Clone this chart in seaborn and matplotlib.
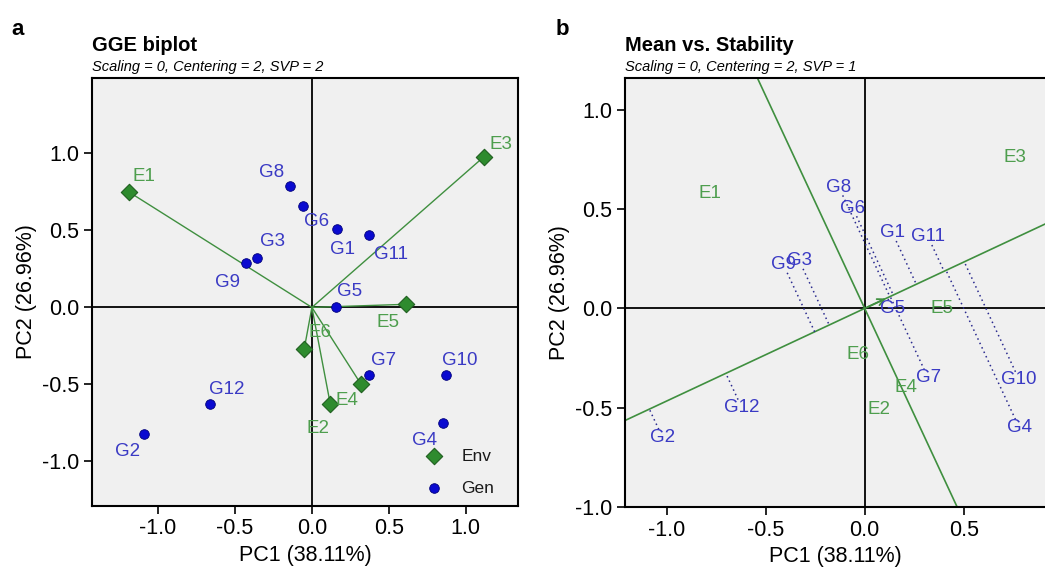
import numpy as np
import pandas as pd
import matplotlib.pyplot as plt
import seaborn as sns

# scores
gen_names = ['G1', 'G2', 'G3', 'G4', 'G5', 'G6', 'G7', 'G8', 'G9', 'G10', 'G11', 'G12']
env_names = ['E1', 'E2', 'E3', 'E4', 'E5', 'E6']

# panel a: GGE biplot, SVP = 2
gen_pc1_a = [0.16, -1.09, -0.36, 0.85, 0.155, -0.06, 0.37, -0.14, -0.43, 0.87, 0.37, -0.66]
gen_pc2_a = [0.51, -0.82, 0.32, -0.75, 0.00, 0.66, -0.44, 0.79, 0.29, -0.44, 0.47, -0.63]
env_pc1_a = [-1.19, 0.12, 1.12, 0.32, 0.61, -0.05]
env_pc2_a = [0.75, -0.63, 0.98, -0.50, 0.02, -0.27]

# panel b: mean vs stability, SVP = 1
gen_pc1_b = [0.14, -1.02, -0.33, 0.78, 0.14, -0.06, 0.32, -0.13, -0.41, 0.78, 0.32, -0.62]
gen_pc2_b = [0.38, -0.65, 0.24, -0.60, 0.00, 0.505, -0.35, 0.61, 0.22, -0.36, 0.36, -0.50]
env_pc1_b = [-0.78, 0.07, 0.76, 0.21, 0.39, -0.035]
env_pc2_b = [0.58, -0.51, 0.76, -0.40, 0.00, -0.23]
mean_env_b = [0.12, 0.056]   # average environment (arrow on the ATA)

xlab = 'PC1 (38.11%)'
ylab = 'PC2 (26.96%)'

# label offsets in pixels for panel a (right, up)
gen_off = [(6, -21), (-17, -18), (16, 17), (-18, -18), (14, 16), (14, -16),
           (15, 15), (-19, 13), (-18, -20), (14, 15), (22, -19), (16, 15)]
env_off = [(15, 15), (-12, -24), (17, 12), (-14, -16), (-18, -18), (16, 16)]

GEN_C = '#0a0ad0'
GEN_TXT = '#3a3ac4'
ENV_C = '#2e8b2e'
ENV_TXT = '#4e9e4e'
LINE_G = '#3f8f3f'
BG = '#f0f0f0'

sns.set_style('ticks')
plt.rcParams['font.family'] = ['Liberation Sans', 'DejaVu Sans']
plt.rcParams['axes.unicode_minus'] = False
plt.rcParams['text.color'] = 'black'
plt.rcParams['axes.labelcolor'] = 'black'
plt.rcParams['xtick.labelcolor'] = 'black'
plt.rcParams['ytick.labelcolor'] = 'black'

fig = plt.figure(figsize=(10.45, 5.72), dpi=100)
ax1 = fig.add_axes([0.088, 0.1154, 0.4077, 0.7482])
ax2 = fig.add_axes([0.598, 0.1136, 0.402, 0.750])

df_gen_a = pd.DataFrame({'pc1': gen_pc1_a, 'pc2': gen_pc2_a, 'name': gen_names})
df_env_a = pd.DataFrame({'pc1': env_pc1_a, 'pc2': env_pc2_a, 'name': env_names})

##########
# panel a
##########
ax = ax1
ax.set_facecolor(BG)
ax.axhline(0, color='black', lw=1.3, zorder=1)
ax.axvline(0, color='black', lw=1.3, zorder=1)
for x, y in zip(env_pc1_a, env_pc2_a):
    ax.plot([0, x], [0, y], color=LINE_G, lw=1.0, zorder=2)

sns.scatterplot(data=df_env_a, x='pc1', y='pc2', marker='D', s=70, color=ENV_C,
                edgecolor='#1f5f1f', linewidth=0.8, label='Env', ax=ax, zorder=4)
sns.scatterplot(data=df_gen_a, x='pc1', y='pc2', marker='o', s=48, color=GEN_C,
                edgecolor='#00007a', linewidth=0.6, label='Gen', ax=ax, zorder=4)

for i, row in df_gen_a.iterrows():
    ax.annotate(row['name'], (row['pc1'], row['pc2']), xytext=gen_off[i],
                textcoords='offset pixels', ha='center', va='center',
                fontsize=13.5, color=GEN_TXT, zorder=5)
for i, row in df_env_a.iterrows():
    ax.annotate(row['name'], (row['pc1'], row['pc2']), xytext=env_off[i],
                textcoords='offset pixels', ha='center', va='center',
                fontsize=13.5, color=ENV_TXT, zorder=5)

h, l = ax.get_legend_handles_labels()
leg = ax.legend(h, l, loc='lower left', bbox_to_anchor=(0.725, -0.012), frameon=False,
                fontsize=12.5, labelspacing=0.95, handletextpad=0.6, markerscale=1.0)
for t in leg.get_texts():
    t.set_color('#1a1a1a')

ax.set_xlim(-1.43, 1.34)
ax.set_ylim(-1.29, 1.49)
ax.set_xticks([-1.0, -0.5, 0.0, 0.5, 1.0])
ax.set_yticks([-1.0, -0.5, 0.0, 0.5, 1.0])
ax.text(0.0, 1.075, 'GGE biplot', transform=ax.transAxes, fontsize=14.5,
        fontweight='bold', va='center', ha='left')
ax.text(0.0, 1.025, 'Scaling = 0, Centering = 2, SVP = 2', transform=ax.transAxes,
        fontsize=10.5, style='italic', va='center', ha='left')

##########
# panel b
##########
ax = ax2
ax.set_facecolor(BG)
ax.axhline(0, color='black', lw=1.3, zorder=1)
ax.axvline(0, color='black', lw=1.3, zorder=1)

# average environment axis and its perpendicular through the origin
mx, my = mean_env_b
slope = my / mx
xs = np.array([-1.4, 1.1])
sns.lineplot(x=xs, y=slope * xs, color=LINE_G, lw=1.2, ax=ax, zorder=2)
ys = np.array([-1.2, 1.3])
sns.lineplot(x=-slope * ys, y=ys, color=LINE_G, lw=1.2, ax=ax, zorder=2, sort=False)
ax.annotate('', xy=(mx, my), xytext=(0, 0),
            arrowprops=dict(arrowstyle='->', color=LINE_G, lw=1.3, mutation_scale=12),
            zorder=3)

# projections of the genotypes onto the ATA
u = np.array([mx, my]) / np.hypot(mx, my)
for x, y in zip(gen_pc1_b, gen_pc2_b):
    p = np.array([x, y])
    proj = p.dot(u) * u
    d = proj - p
    dist = np.hypot(*d)
    if dist > 0.05:
        start = p + d / dist * 0.045
        ax.plot([start[0], proj[0]], [start[1], proj[1]], color='#2b2b8f',
                lw=1.1, ls=(0, (1, 2.2)), zorder=3)

for n, x, y in zip(gen_names, gen_pc1_b, gen_pc2_b):
    ax.text(x, y, n, ha='center', va='center', fontsize=13.5, color=GEN_TXT, zorder=5)
for n, x, y in zip(env_names, env_pc1_b, env_pc2_b):
    ax.text(x, y, n, ha='center', va='center', fontsize=13.5, color=ENV_TXT, zorder=5)

ax.set_xlim(-1.21, 0.91)
ax.set_ylim(-1.0, 1.16)
ax.set_xticks([-1.0, -0.5, 0.0, 0.5])
ax.set_yticks([-1.0, -0.5, 0.0, 0.5, 1.0])
ax.spines['right'].set_visible(False)
ax.text(0.0, 1.075, 'Mean vs. Stability', transform=ax.transAxes, fontsize=14.5,
        fontweight='bold', va='center', ha='left')
ax.text(0.0, 1.025, 'Scaling = 0, Centering = 2, SVP = 1', transform=ax.transAxes,
        fontsize=10.5, style='italic', va='center', ha='left')

for ax in (ax1, ax2):
    ax.set_xlabel(xlab, fontsize=15.5, labelpad=4)
    ax.set_ylabel(ylab, fontsize=15.5, labelpad=4)
    ax.tick_params(axis='both', labelsize=15.5, length=6, width=1.2, direction='out',
                   color='black', pad=3)
    for s in ax.spines.values():
        s.set_linewidth(1.5)
        s.set_color('black')
    ax.grid(False)

fig.text(0.011, 0.948, 'a', fontsize=16, fontweight='bold', va='center')
fig.text(0.532, 0.948, 'b', fontsize=16, fontweight='bold', va='center')

fig.savefig('out.png', dpi=100)
